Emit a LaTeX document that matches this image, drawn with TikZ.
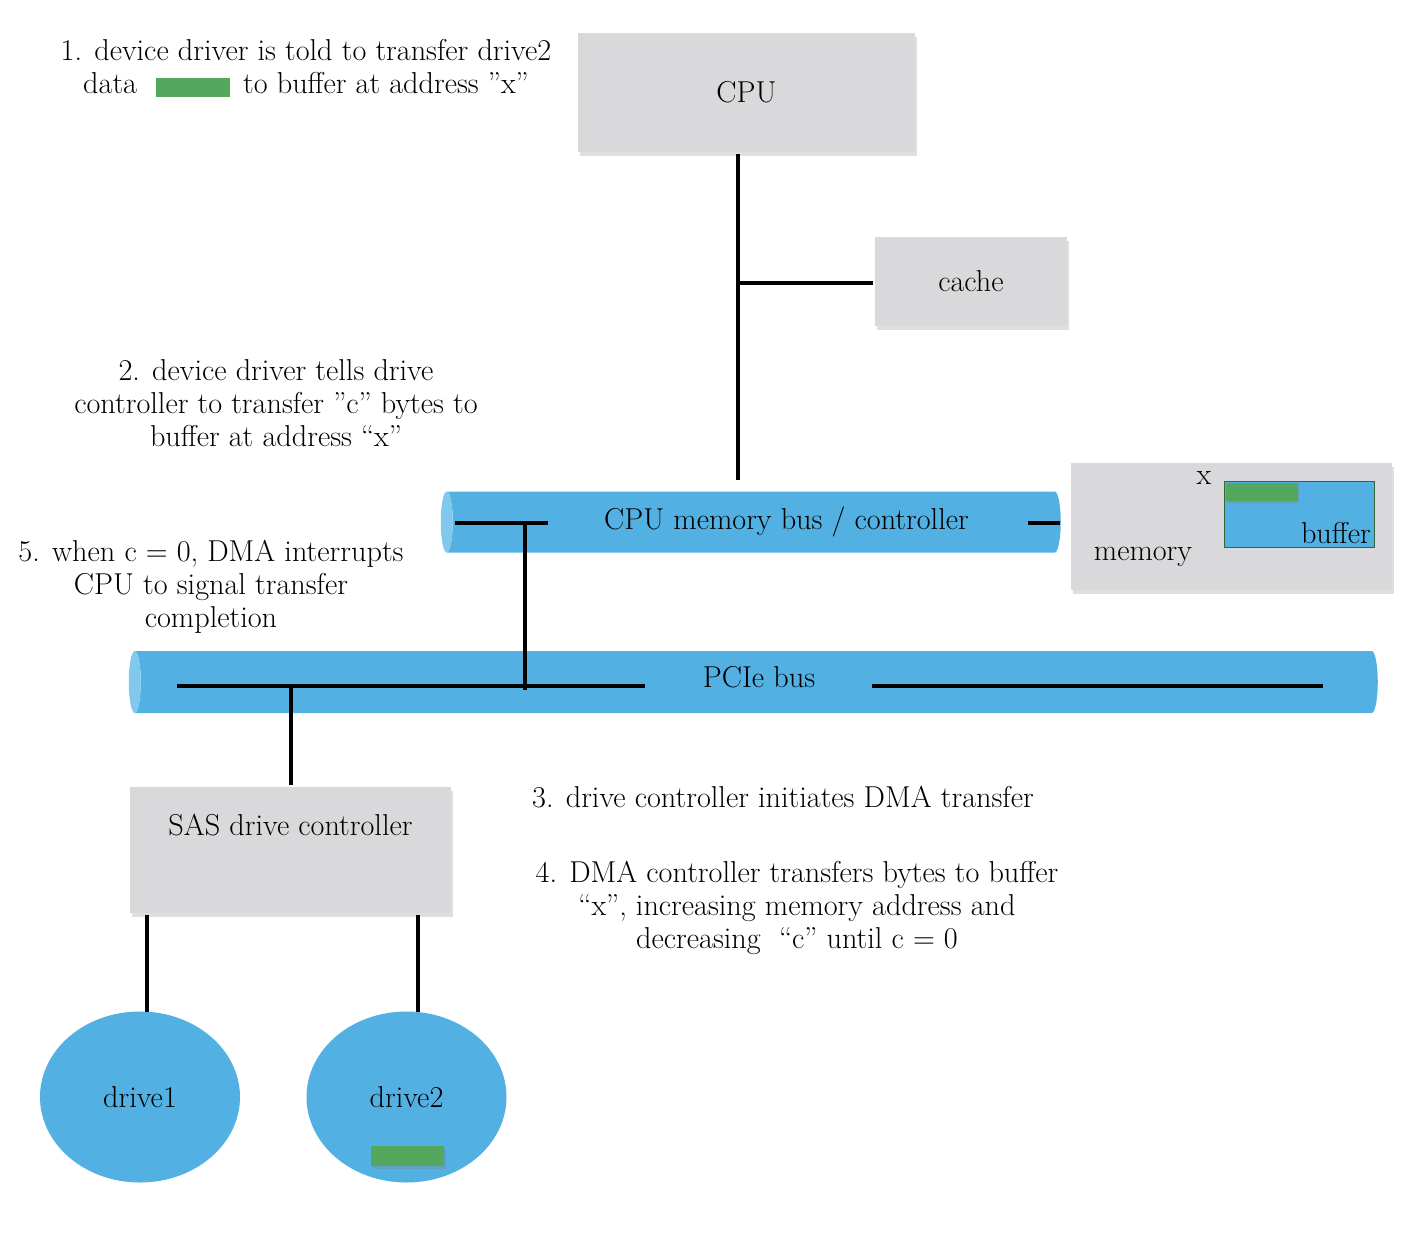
\documentclass[tikz,border=0pt]{standalone}
\usepackage{tikz}
\usetikzlibrary{positioning, shapes.geometric, shadows}
\definecolor{busblue}{RGB}{82,176,226}
\definecolor{capblue}{RGB}{128,200,238}
\definecolor{boxgray}{RGB}{217,217,219}
\definecolor{datagreen}{RGB}{84,168,94}
\tikzset{font=\fontsize{17.2}{18.8}\selectfont,
	box/.style={rectangle, fill=boxgray, drop shadow={shadow xshift=0.03cm, shadow yshift=-0.07cm, opacity=0.25}},
	bus/.style={cylinder, shape border rotate=180, shape aspect=1, cylinder uses custom fill, cylinder body fill=busblue, cylinder end fill=capblue, minimum width=1.22cm},
	drive/.style={ellipse, fill=busblue, minimum width=4cm, minimum height=3.42cm},
	data/.style={rectangle, fill=datagreen, inner sep=0pt, drop shadow={shadow xshift=0.03cm, shadow yshift=-0.05cm, opacity=0.3}},
	note/.style={align=center}}

\begin{document}
\begin{tikzpicture}[line width=2.2pt, every node/.style={inner sep=0.12cm}]
	\useasboundingbox (0,0) rectangle (28.28,-24.64);
	\node[box, minimum width=6.74cm, minimum height=2.38cm] at (14.93,-1.85) (CPU) {CPU};
	\node[box, minimum width=3.84cm, minimum height=1.78cm] at (19.42,-5.63) (Cache) {cache};
	\node[bus, minimum height=12.4cm, label={[xshift=0.6cm]center:CPU memory bus / controller}] at (15.13,-10.44) (Mem Bus) {};
	\node[box, minimum width=6.42cm, minimum height=2.54cm] at (24.63,-10.53) (Memory) {};
	\node at (22.86,-11.14) (Memory Text) {memory};
	\node[fill=busblue, draw=datagreen!60!black, line width=0.5pt, minimum width=3cm, minimum height=1.32cm, inner sep=0pt] at (25.98,-10.28) (Buffer) {};
	\node[data, minimum width=1.44cm, minimum height=0.36cm, anchor=north west] at (Buffer.north west) (Buffer Data) {};
	\node[anchor=south east, inner sep=1pt] at (Buffer.south east) (Buffer Text) {buffer};
	\node at (24.08,-9.56) (Addr X) {x};
	\node[bus, minimum height=24.98cm, minimum width=1.24cm, label={[xshift=0cm, yshift=0.1cm]center:PCIe bus}] at (15.18,-13.64) (PCIe) {};
	\node[box, minimum width=6.42cm, minimum height=2.52cm, label={[anchor=north, yshift=-0.42cm]north:SAS drive controller}] at (5.81,-17.0) (SAS) {};
	\node[drive] at (2.8,-21.94) (Drive1) {drive1};
	\node[drive] at (8.13,-21.94) (Drive2) {drive2};
	\node[data, minimum width=1.46cm, minimum height=0.4cm] at (8.15,-23.12) (Drive2 Data) {};

	\coordinate (CPU Tap) at (14.76,-5.66);
	\coordinate (Bus Top) at (14.76,-9.6);
	\coordinate (MB Left) at (9.1,-10.46);
	\coordinate (MB Right) at (10.96,-10.46);
	\coordinate (MB Tap) at (10.5,-10.46);
	\coordinate (MB Out) at (20.56,-10.46);
	\coordinate (MB End) at (21.2,-10.46);
	\coordinate (PCIe Left) at (3.54,-13.72);
	\coordinate (PCIe Mid) at (12.9,-13.72);
	\coordinate (PCIe Gap) at (17.44,-13.72);
	\coordinate (PCIe Right) at (26.46,-13.72);
	\coordinate (PCIe Tap) at (10.5,-13.8);
	\coordinate (SAS Tap) at (5.82,-13.72);
	\coordinate (D1 Top) at (2.94,-20.24);
	\coordinate (D2 Top) at (8.36,-20.24);

	\draw (CPU.south -| CPU Tap) -- (Bus Top);
	\draw (CPU Tap) -- (Cache.west |- CPU Tap);
	\draw (MB Left) -- (MB Right);
	\draw (MB Out) -- (MB End);
	\draw (MB Tap) -- (PCIe Tap);
	\draw (PCIe Left) -- (PCIe Mid);
	\draw (PCIe Gap) -- (PCIe Right);
	\draw (SAS Tap) -- (SAS.north -| SAS Tap);
	\draw (SAS.south -| D1 Top) -- (D1 Top);
	\draw (SAS.south -| D2 Top) -- (D2 Top);

	\node[note] at (6.12,-1.37) (Step 1) {1. device driver is told to transfer drive2\\data\hspace{0.38cm}\textcolor{datagreen}{\rule[-0.07cm]{1.48cm}{0.38cm}}\hspace{0.26cm}to buffer at address ''x''};
	\node[note] at (5.52,-8.06) (Step 2) {2. device driver tells drive\\controller to transfer ''c'' bytes to\\buffer at address ``x''};
	\node[note] at (15.66,-15.94) (Step 3) {3. drive controller initiates DMA transfer};
	\node[note] at (15.94,-18.16) (Step 4) {4. DMA controller transfers bytes to buffer\\``x'', increasing memory address and\\decreasing\ \ ``c'' until c = 0};
	\node[note] at (4.22,-11.74) (Step 5) {5. when c = 0, DMA interrupts\\CPU to signal transfer\\completion};
\end{tikzpicture}
\end{document}
